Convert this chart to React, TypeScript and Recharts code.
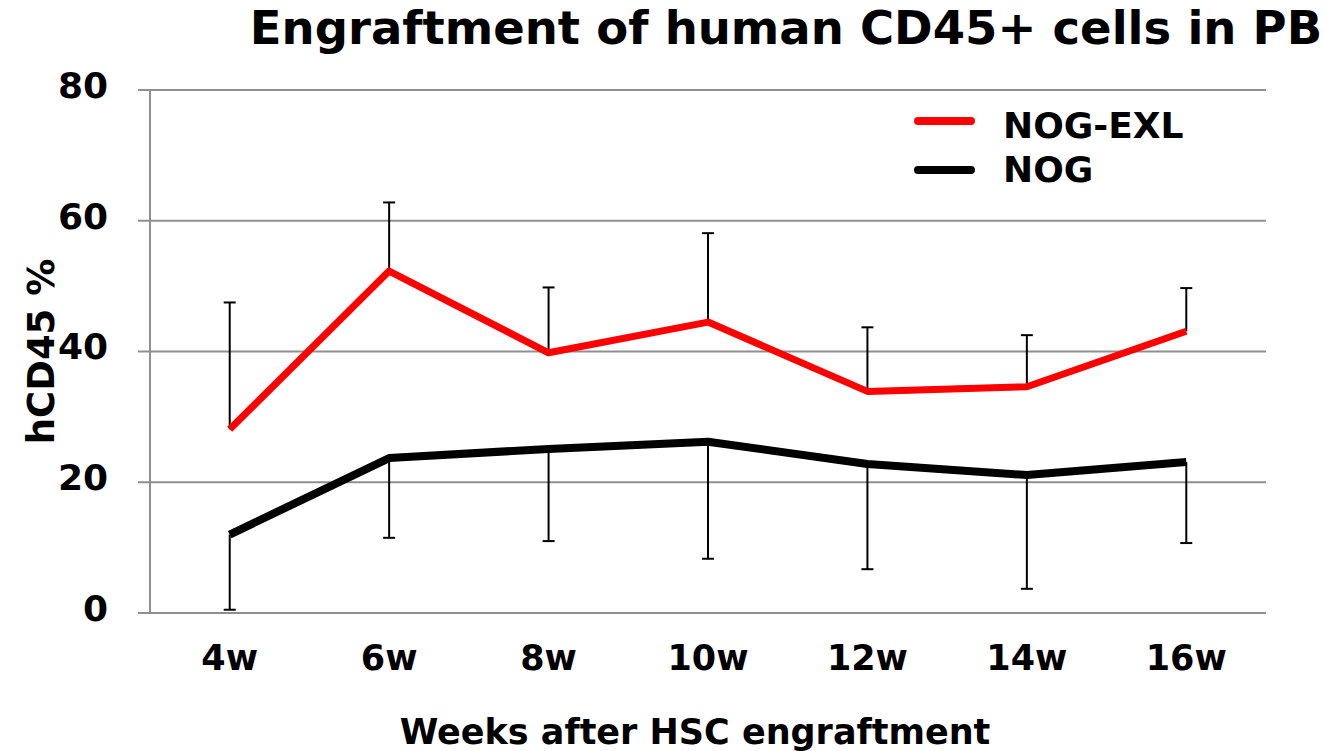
import React from 'react';
import { LineChart, Line, XAxis, YAxis, CartesianGrid, ErrorBar } from 'recharts';

const categories = ['4w', '6w', '8w', '10w', '12w', '14w', '16w'];
const exlMean = [28.1, 52.3, 39.8, 44.5, 33.9, 34.6, 43.1];
const exlUpper = [47.5, 62.8, 49.8, 58.1, 43.7, 42.5, 49.7];
const nogMean = [12.0, 23.7, 25.1, 26.2, 22.8, 21.1, 23.1];
const nogLower = [0.5, 11.5, 11.0, 8.3, 6.7, 3.7, 10.7];
const yTicks = [0, 20, 40, 60, 80];
const boundaryTicks = [0, 1, 2, 3, 4, 5, 6, 7];
const centerTicks = [0.5, 1.5, 2.5, 3.5, 4.5, 5.5, 6.5];

const data = categories.map((c, i) => ({
  x: i + 0.5,
  cat: c,
  exl: exlMean[i],
  exlUp: exlUpper[i],
  exlErr: [0, +(exlUpper[i] - exlMean[i]).toFixed(2)],
  nog: nogMean[i],
  nogLow: nogLower[i],
  nogErr: [+(nogMean[i] - nogLower[i]).toFixed(2), 0],
}));

const FONT = '"DejaVu Sans", Verdana, sans-serif';
const GRAY = '#8f8f8f';

const legendItems = [
  { name: 'NOG-EXL', color: '#ff0000' },
  { name: 'NOG', color: '#000000' },
];

const LegendBox = () => (
  <div
    style={{
      position: 'absolute',
      left: 914,
      top: 96,
      fontFamily: FONT,
      fontWeight: 'bold',
      fontSize: 36,
      color: '#000',
      lineHeight: 1,
    }}
  >
    {legendItems.map((it, i) => (
      <div key={it.name} style={{ display: 'flex', alignItems: 'center', height: i === 0 ? 49 : 50 }}>
        <svg width={89} height={20} style={{ display: 'block' }}>
          <line x1={4} y1={10} x2={57} y2={10} stroke={it.color} strokeWidth={8} strokeLinecap="round" />
        </svg>
        <span style={{ position: 'relative', top: i === 0 ? 5 : 0 }}>{it.name}</span>
      </div>
    ))}
  </div>
);

const Cap = (props: any) => {
  const { cx, cy, index } = props;
  if (cx == null || cy == null) return <g key={index} />;
  return <line key={index} x1={cx - 6} x2={cx + 6} y1={cy} y2={cy} stroke="#000" strokeWidth={2} />;
};

export default function App() {
  return (
    <div style={{ position: 'absolute', left: 0, top: 0, width: 1326, height: 751, background: '#fff', fontFamily: FONT }}>
      <div
        style={{
          position: 'absolute',
          left: 0,
          width: 1572,
          top: 1,
          textAlign: 'center',
          fontSize: 46.5,
          fontWeight: 'bold',
          color: '#000',
          whiteSpace: 'nowrap',
        }}
      >
        Engraftment of human CD45+ cells in PB
      </div>
      <LineChart
        width={1326}
        height={751}
        data={data}
        margin={{ top: 90, right: 60, bottom: 78, left: 50 }}
        style={{ position: 'absolute', left: 0, top: 0 }}
      >
        <CartesianGrid vertical={false} stroke={GRAY} strokeWidth={2} xAxisId="b" />
        <XAxis
          xAxisId="b"
          type="number"
          dataKey="x"
          domain={[0, 7]}
          ticks={boundaryTicks}
          tick={false}
          tickSize={10}
          height={0}
          axisLine={{ stroke: GRAY, strokeWidth: 2 }}
          tickLine={{ stroke: GRAY, strokeWidth: 2 }}
          allowDataOverflow
        />
        <XAxis
          xAxisId="lab"
          type="number"
          dataKey="x"
          domain={[0, 7]}
          ticks={centerTicks}
          tickFormatter={(v: number) => categories[Math.floor(v)]}
          axisLine={false}
          tickLine={false}
          tickSize={10}
          tickMargin={22}
          height={60}
          tick={{ fill: '#000', fontSize: 35, fontWeight: 'bold', fontFamily: FONT }}
          label={{
            value: 'Weeks after HSC engraftment',
            position: 'insideBottom',
            offset: -71,
            dx: -13,
            fill: '#000',
            fontSize: 35,
            fontWeight: 'bold',
            fontFamily: FONT,
          }}
        />
        <YAxis
          type="number"
          domain={[0, 80]}
          ticks={yTicks}
          width={100}
          tickSize={12}
          tickMargin={30}
          axisLine={{ stroke: GRAY, strokeWidth: 2 }}
          tickLine={{ stroke: GRAY, strokeWidth: 2 }}
          tick={{ fill: '#000', fontSize: 36, fontWeight: 'bold', fontFamily: FONT, dy: -5 }}
          label={{
            value: 'hCD45 %',
            angle: -90,
            position: 'insideLeft',
            dx: -14,
            dy: 0,
            fill: '#000',
            fontSize: 37,
            fontWeight: 'bold',
            fontFamily: FONT,
            style: { textAnchor: 'middle' },
          }}
        />
        <Line
          xAxisId="b"
          type="linear"
          dataKey="exlUp"
          stroke="none"
          dot={Cap}
          activeDot={false}
          legendType="none"
          isAnimationActive={false}
        />
        <Line
          xAxisId="b"
          type="linear"
          dataKey="nogLow"
          stroke="none"
          dot={Cap}
          activeDot={false}
          legendType="none"
          isAnimationActive={false}
        />
        <Line
          xAxisId="b"
          type="linear"
          dataKey="nog"
          name="NOG"
          stroke="#000000"
          strokeWidth={8}
          dot={false}
          strokeLinejoin="round"
          isAnimationActive={false}
        >
          <ErrorBar dataKey="nogErr" direction="y" width={0} stroke="#000" strokeWidth={2} />
        </Line>
        <Line
          xAxisId="b"
          type="linear"
          dataKey="exl"
          name="NOG-EXL"
          stroke="#ff0000"
          strokeWidth={7}
          dot={false}
          strokeLinejoin="round"
          isAnimationActive={false}
        >
          <ErrorBar dataKey="exlErr" direction="y" width={0} stroke="#000" strokeWidth={2} />
        </Line>
      </LineChart>
      <LegendBox />
    </div>
  );
}
